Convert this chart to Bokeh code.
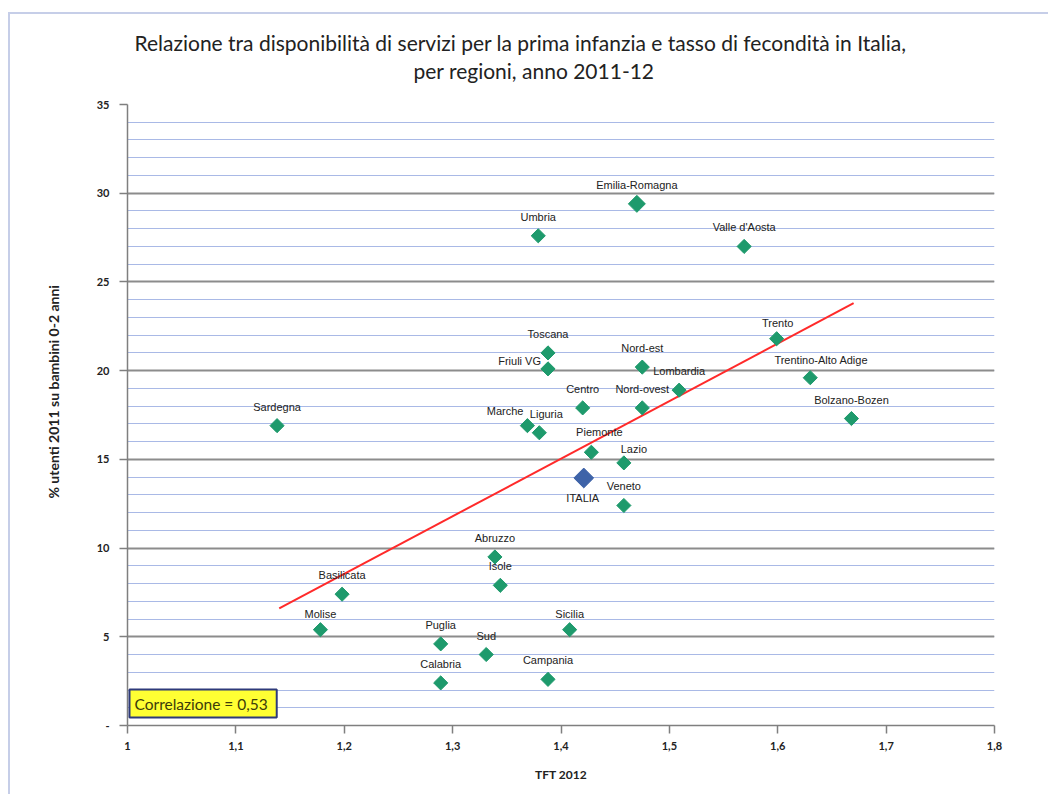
from bokeh.plotting import figure
from bokeh.models import (ColumnDataSource, FixedTicker, CustomJSTickFormatter,
                          Label, Title)
from bokeh.core.properties import value
from bokeh.embed import file_html
from bokeh.resources import INLINE
import numpy as np

# ---------------------------------------------------------------- data
regioni = ["Sardegna", "Umbria", "Emilia-Romagna", "Valle d'Aosta", "Toscana",
           "Friuli VG", "Marche", "Liguria", "Trento", "Nord-est",
           "Trentino-Alto Adige", "Lombardia", "Centro", "Nord-ovest",
           "Bolzano-Bozen", "Piemonte", "Lazio", "Veneto", "Abruzzo", "Isole",
           "Sicilia", "Sud", "Campania", "Basilicata", "Molise", "Puglia",
           "Calabria"]
tft_2012 = [1.138, 1.379, 1.470, 1.569, 1.388,
            1.388, 1.369, 1.380, 1.599, 1.475,
            1.630, 1.509, 1.420, 1.475,
            1.668, 1.428, 1.458, 1.458, 1.339, 1.344,
            1.408, 1.331, 1.388, 1.198, 1.178, 1.289,
            1.289]
utenti_0_2 = [16.9, 27.6, 29.4, 27.0, 21.0,
              20.1, 16.9, 16.5, 21.8, 20.2,
              19.6, 18.9, 17.9, 17.9,
              17.3, 15.4, 14.8, 12.4, 9.5, 7.9,
              5.4, 4.0, 2.6, 7.4, 5.4, 4.6,
              2.4]

italia_nome = ["ITALIA"]
italia_tft = [1.421]
italia_utenti = [13.95]

# linear trend drawn over the observed TFT range
trend_tft = [1.14, 1.67]
trend_utenti = [6.6, 23.8]

correlazione = "0,53"

x_ticks = [1.0, 1.1, 1.2, 1.3, 1.4, 1.5, 1.6, 1.7, 1.8]
x_tick_labels = ["1", "1,1", "1,2", "1,3", "1,4", "1,5", "1,6", "1,7", "1,8"]
y_ticks = [0, 5, 10, 15, 20, 25, 30, 35]
y_tick_labels = ["-", "5", "10", "15", "20", "25", "30", "35"]
y_minor_ticks = list(range(0, 36))

titolo = ["Relazione tra disponibilità di servizi per la prima infanzia e tasso di fecondità in Italia,",
          "per regioni, anno 2011-12"]
asse_x = "TFT 2012"
asse_y = "% utenti 2011 su bambini 0-2 anni"

# ---------------------------------------------------------------- style
GREEN = "#1E9A6C"
BLUE = "#3E63A8"
RED = "#FF2A2A"
FONT = "Lato"

# label placement (x offset px, y offset px, alignment) around each marker
label_place = {
    "Friuli VG": (-7, -8, "right"),
    "Marche": (-4, -15, "right"),
    "Liguria": (7, -19, "center"),
    "Trentino-Alto Adige": (11, -18, "center"),
    "Piemonte": (8, -20, "center"),
    "Lazio": (10, -14, "center"),
    "Trento": (1, -16, "center"),
    "Sicilia": (0, -16, "center"),
    "Molise": (0, -16, "center"),
}
marker_size = {"Emilia-Romagna": 12}

p = figure(width=1040, height=782, output_backend="svg", toolbar_location=None,
           x_range=(1.0, 1.8), y_range=(0, 35),
           min_border_left=117, min_border_right=56,
           min_border_top=90, min_border_bottom=71)
p.margin = (12, 0, 0, 8)
p.styles = {"border-top": "2px solid #C6CEE8", "border-left": "2px solid #C6CEE8"}
p.background_fill_color = "white"
p.border_fill_color = "white"
p.outline_line_color = None

# axes
tick_code = """
    let b = 0;
    for (let i = 0; i < vals.length; i++) {
        if (Math.abs(vals[i] - tick) < Math.abs(vals[b] - tick)) b = i;
    }
    return labs[b];
"""
p.xaxis.ticker = FixedTicker(ticks=x_ticks)
p.xaxis.formatter = CustomJSTickFormatter(args=dict(vals=x_ticks, labs=x_tick_labels), code=tick_code)
p.yaxis.ticker = FixedTicker(ticks=y_ticks, minor_ticks=y_minor_ticks)
p.yaxis.formatter = CustomJSTickFormatter(args=dict(vals=y_ticks, labs=y_tick_labels), code=tick_code)

for ax in (p.xaxis[0], p.yaxis[0]):
    ax.axis_line_color = "#7F7F7F"
    ax.axis_line_width = 1.5
    ax.major_tick_line_color = "#7F7F7F"
    ax.major_tick_line_width = 1.5
    ax.major_tick_in = 0
    ax.major_tick_out = 8
    ax.minor_tick_line_color = None
    ax.major_label_text_font = FONT
    ax.major_label_text_font_size = "11px"
    ax.major_label_text_font_style = "bold"
    ax.major_label_text_color = "#222222"
    ax.axis_label_text_font = FONT
    ax.axis_label_text_font_size = "12px"
    ax.axis_label_text_font_style = "bold"
    ax.axis_label_text_color = "#222222"

p.xaxis.axis_label = asse_x
p.xaxis.major_label_standoff = 8
p.xaxis.axis_label_standoff = 14
p.yaxis.major_label_standoff = 10

# vertical axis title, placed on its own panel
p.add_layout(Title(text=asse_y, align="left", offset=227, standoff=62,
                   vertical_align="middle", text_font=FONT,
                   text_font_size="14px", text_font_style="bold",
                   text_color="#222222"), "left")

# grid: grey every 5, light blue every 1
p.xgrid.grid_line_color = None
p.ygrid.ticker = FixedTicker(ticks=y_ticks, minor_ticks=y_minor_ticks)
p.ygrid.grid_line_color = "#8C8C8C"
p.ygrid.grid_line_width = 1.8
p.ygrid.minor_grid_line_color = "#A9B9E6"
p.ygrid.minor_grid_line_width = 1.2

# trend line
p.line(trend_tft, trend_utenti, line_color=RED, line_width=2)

# markers
sizes = [marker_size.get(r, 10) for r in regioni]
src = ColumnDataSource(dict(x=tft_2012, y=utenti_0_2, nome=regioni, s=sizes))
p.scatter("x", "y", source=src, marker="square", angle=np.pi / 4, size="s",
          fill_color=GREEN, line_color=GREEN)
p.scatter(italia_tft, italia_utenti, marker="square", angle=np.pi / 4, size=14,
          fill_color=BLUE, line_color=BLUE)

# point labels
for align in ("center", "right"):
    rows = [i for i, r in enumerate(regioni)
            if label_place.get(r, (0, -19, "center"))[2] == align]
    d = dict(
        x=[tft_2012[i] for i in rows],
        y=[utenti_0_2[i] for i in rows],
        t=[regioni[i] for i in rows],
        dx=[label_place.get(regioni[i], (0, -19, "center"))[0] for i in rows],
        dy=[label_place.get(regioni[i], (0, -19, "center"))[1] for i in rows],
    )
    p.text("x", "y", text="t", x_offset="dx", y_offset="dy",
           source=ColumnDataSource(d), text_align=align, text_baseline="middle",
           text_font=value("Liberation Sans"), text_font_size="11px",
           text_color="#222222")
p.text(italia_tft, italia_utenti, text=italia_nome, x_offset=-1, y_offset=20,
       text_align="center", text_baseline="middle",
       text_font=value("Liberation Sans"), text_font_size="11px",
       text_color="#222222")

# correlation box
p.add_layout(Label(x=2, y=22, x_units="screen", y_units="screen",
                   text="Correlazione  = " + correlazione,
                   text_font=FONT, text_font_size="15.5px", text_color="#3C3C0A",
                   text_align="left", text_baseline="middle",
                   background_fill_color="#FFFF33",
                   border_line_color="#2E3A7A", border_line_width=2,
                   padding=5))

# two-line title above the frame; panels stack outward in the order added
p.add_layout(Title(text=" ", text_font_size="1px", standoff=18), "above")
p.add_layout(Title(text=titolo[1], align="left", offset=286, standoff=1,
                   text_font=FONT, text_font_size="21px",
                   text_font_style="normal", text_color="#222222"), "above")
p.add_layout(Title(text=titolo[0], align="left", offset=7, standoff=1,
                   text_font=FONT, text_font_size="21px",
                   text_font_style="normal", text_color="#222222"), "above")

open("out.html", "w").write(file_html(p, INLINE))
